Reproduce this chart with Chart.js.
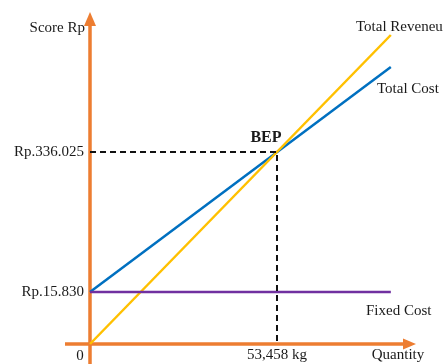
<!DOCTYPE html>
<html>
<head>
<meta charset="utf-8">
<script src="https://cdn.jsdelivr.net/npm/chart.js@4.4.1/dist/chart.umd.min.js"></script>
<style>
  html, body { margin: 0; padding: 0; background: #fff; }
  #wrap { width: 447px; height: 364px; }
</style>
</head>
<body>
<div id="wrap"><canvas id="bep"></canvas></div>
<script>
// Quantity in thousand kg, BEP at 53,458 kg
const quantity = [0, 86];
const bepQty = 53.458;

// Heights are schematic (the picture is not to scale)
const revenue = [0, 309];
const totalCost = [52, 277];
const fixedCost = [52, 52];
const bepLevel = 192;

const yTickValues = [52, 192];
const yTickLabels = ['Rp.15.830', 'Rp.336.025'];
const bepQtyLabel = '53,458 kg';

const ORANGE = '#ED7D31';
const SERIF = '"Liberation Serif", "Times New Roman", serif';

const pts = (xs, ys) => xs.map((x, i) => ({ x: x, y: ys[i] }));

// axes, arrowheads and all text
const decor = {
  id: 'decor',
  beforeDatasetsDraw(chart) {
    const { ctx, scales: { x, y } } = chart;
    const ox = x.getPixelForValue(0);
    const oy = y.getPixelForValue(0);
    ctx.save();
    ctx.strokeStyle = ORANGE;
    ctx.fillStyle = ORANGE;
    ctx.lineWidth = 3.5;
    // y axis
    ctx.beginPath();
    ctx.moveTo(ox, chart.height);
    ctx.lineTo(ox, 24);
    ctx.stroke();
    ctx.beginPath();
    ctx.moveTo(ox, 12);
    ctx.lineTo(ox - 6, 26);
    ctx.lineTo(ox + 6, 26);
    ctx.closePath();
    ctx.fill();
    // x axis
    ctx.beginPath();
    ctx.moveTo(65, oy);
    ctx.lineTo(405, oy);
    ctx.stroke();
    ctx.beginPath();
    ctx.moveTo(416, oy);
    ctx.lineTo(403, oy - 5.5);
    ctx.lineTo(403, oy + 5.5);
    ctx.closePath();
    ctx.fill();
    ctx.restore();
  },
  afterDatasetsDraw(chart) {
    const { ctx, scales: { x, y } } = chart;
    const ox = x.getPixelForValue(0);
    const bx = x.getPixelForValue(bepQty);
    const by = y.getPixelForValue(bepLevel);
    ctx.save();
    ctx.fillStyle = '#1a1a1a';
    ctx.font = '15px ' + SERIF;
    ctx.textBaseline = 'alphabetic';

    ctx.textAlign = 'right';
    ctx.fillText('Score Rp', ox - 5, 32);
    ctx.textBaseline = 'middle';
    yTickValues.forEach((v, i) => {
      ctx.fillText(yTickLabels[i], ox - 6, y.getPixelForValue(v));
    });

    ctx.textBaseline = 'alphabetic';
    ctx.textAlign = 'left';
    ctx.fillText('Total Reveneu', 356, 31);
    ctx.fillText('Total Cost', 377, 93);
    ctx.fillText('Fixed Cost', 366, 315);

    ctx.textAlign = 'center';
    ctx.fillText('0', 80, 360);
    ctx.fillText(bepQtyLabel, bx, 359);
    ctx.fillText('Quantity', 398, 359);

    ctx.font = 'bold 16px ' + SERIF;
    ctx.fillText('BEP', bx - 11, by - 10);
    ctx.restore();
  }
};

new Chart(document.getElementById('bep'), {
  type: 'scatter',
  data: {
    datasets: [
      {
        label: 'BEP',
        data: [{ x: 0, y: bepLevel }, { x: bepQty, y: bepLevel }, { x: bepQty, y: 0 }],
        borderColor: '#111',
        borderWidth: 2,
        borderDash: [6, 4],
        showLine: true,
        pointRadius: 0
      },
      {
        label: 'Fixed Cost',
        data: pts(quantity, fixedCost),
        borderColor: '#7030A0',
        borderWidth: 2.5,
        showLine: true,
        pointRadius: 0
      },
      {
        label: 'Total Reveneu',
        data: pts(quantity, revenue),
        borderColor: '#FFC000',
        borderWidth: 2.5,
        showLine: true,
        pointRadius: 0
      },
      {
        label: 'Total Cost',
        data: pts(quantity, totalCost),
        borderColor: '#0070C0',
        borderWidth: 2.5,
        showLine: true,
        pointRadius: 0
      }
    ]
  },
  options: {
    responsive: true,
    maintainAspectRatio: false,
    animation: false,
    layout: { padding: 0 },
    scales: {
      x: { type: 'linear', display: false, min: -25.73, max: 102.06 },
      y: { type: 'linear', display: false, min: -20, max: 344 }
    },
    plugins: {
      legend: { display: false },
      tooltip: { enabled: false }
    }
  },
  plugins: [decor]
});
</script>
</body>
</html>
